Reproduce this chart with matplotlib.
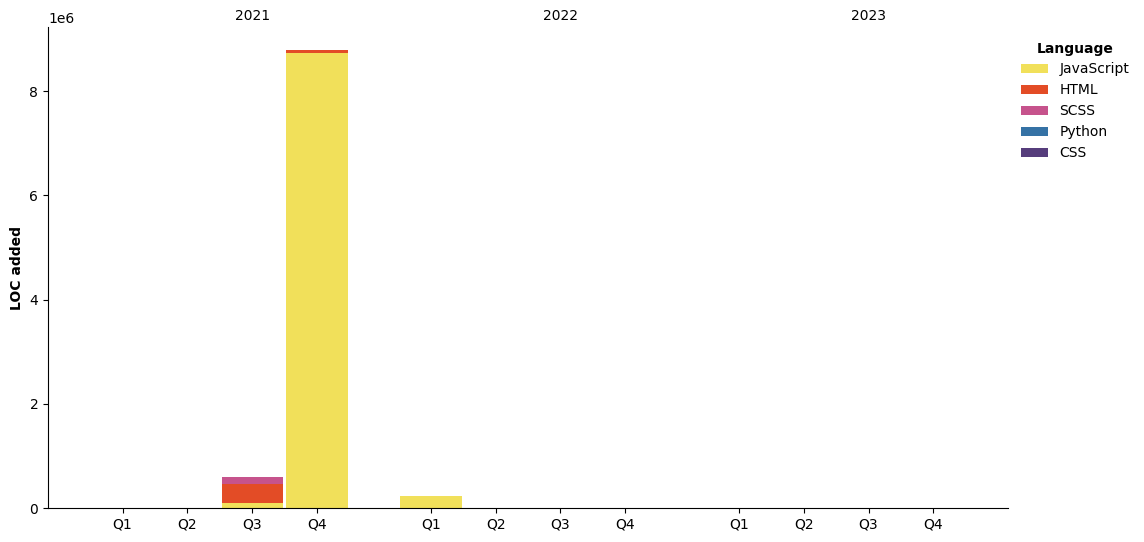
import numpy as np
import matplotlib
matplotlib.use('Agg')
import matplotlib.pyplot as plt

years    = ['2021', '2022', '2023']
quarters = ['Q1', 'Q2', 'Q3', 'Q4']

languages = ['JavaScript', 'HTML', 'SCSS', 'Python', 'CSS']
colors    = ['#f1e05a', '#e34c26', '#c6538c', '#3572A5', '#563d7c']

# LOC added per quarter (2021 Q1 .. 2023 Q4)
javascript = [0, 0, 100000, 8730000, 230000, 0, 0, 0, 0, 0, 0, 0]
html       = [0, 0, 370000,   60000,      0, 0, 0, 0, 0, 0, 0, 0]
scss       = [0, 0, 130000,       0,      0, 0, 0, 0, 0, 0, 0, 0]
python     = [0, 0,   2000,    2000,   1000, 0, 0, 0, 0, 0, 0, 0]
css        = [0, 0,   2000,    1000,      0, 0, 0, 0, 0, 0, 0, 0]

series = [javascript, html, scss, python, css]

fig = plt.figure(figsize=(11.44, 5.42), dpi=100)
ax = fig.add_axes([48/1144, 1 - 508/542, 960/1144, 481/542])

# bar positions: quarters spaced by 1, extra gap between years
x = []
for yi in range(len(years)):
    for qi in range(len(quarters)):
        x.append(yi * 4.75 + qi)
x = np.array(x)

bottom = np.zeros(len(x))
for lang, col, vals in zip(languages, colors, series):
    vals = np.array(vals, dtype=float)
    ax.bar(x, vals, width=0.95, bottom=bottom, color=col, label=lang, linewidth=0)
    bottom += vals

ax.set_xticks(x)
ax.set_xticklabels(quarters * len(years))
ax.set_xlim(x[0] - 1.15, x[-1] + 1.15)
ax.set_ylim(0, bottom.max() * 1.05)
ax.set_ylabel('LOC added', fontweight='bold')

ax.spines['top'].set_visible(False)
ax.spines['right'].set_visible(False)

# year labels above the bars
for yi, yr in enumerate(years):
    ax.text(yi * 4.75 + 2, 1.008, yr, transform=ax.get_xaxis_transform(),
            ha='center', va='bottom')

fig.legend(title='Language', title_fontproperties={'weight': 'bold'},
           loc='upper left', bbox_to_anchor=(1008/1144, 1 - 29/542),
           frameon=False, handlelength=2.0)

plt.savefig('out.png', dpi=100)
